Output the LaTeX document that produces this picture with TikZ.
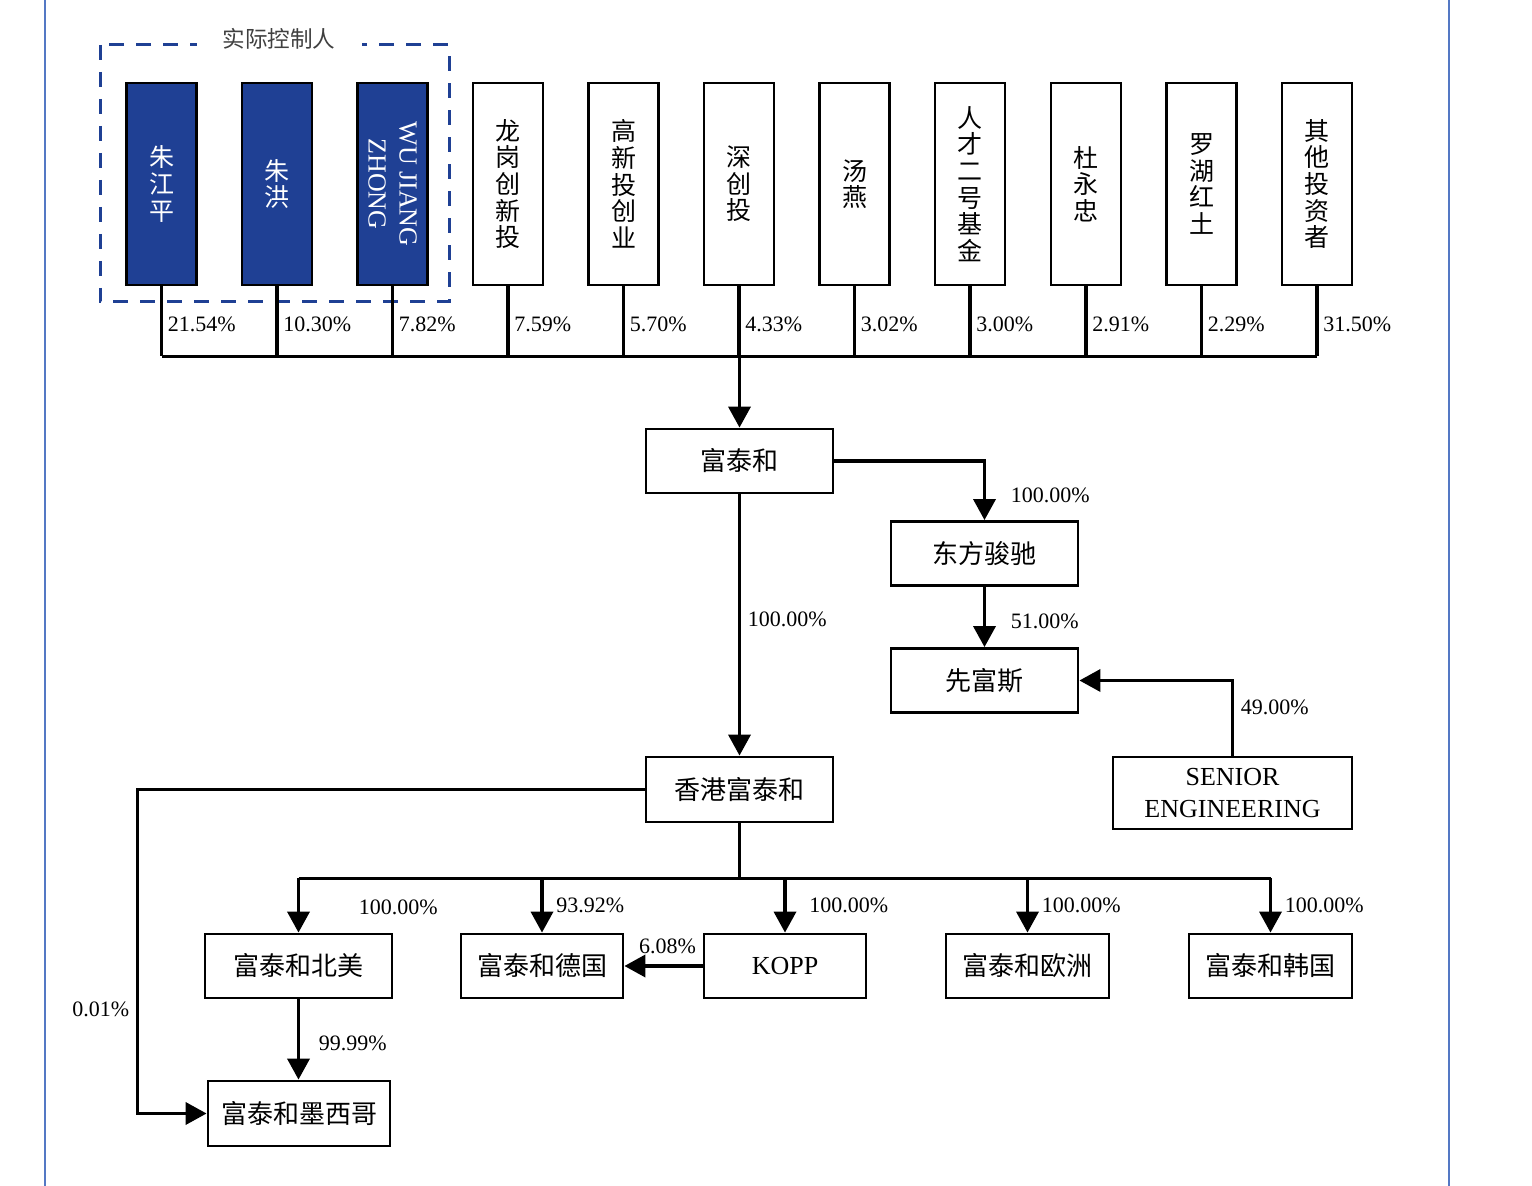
\documentclass[tikz,border=0pt]{standalone}
\usepackage{fontspec}
\setmainfont{Liberation Serif}
\newfontfamily\cjk{Noto Sans CJK SC}
\usetikzlibrary{arrows.meta,positioning}
\definecolor{ctrlblue}{RGB}{31,64,148}
\definecolor{edgeblue}{RGB}{84,120,196}
\tikzset{
  holder/.style={draw, line width=1.4pt, minimum width=35pt, minimum height=101pt,
    inner sep=0pt, align=center, font=\cjk\fontsize{12.5}{13.3}\selectfont},
  ctrl/.style={holder, fill=ctrlblue, text=white},
  box/.style={draw, line width=1.4pt, minimum width=93.5pt, minimum height=32pt,
    font=\cjk\fontsize{13}{15}\selectfont},
  pct/.style={font=\fontsize{11}{13}\selectfont},
  line/.style={line width=1.8pt},
  arr/.style={line width=1.8pt, -{Triangle[width=11pt,length=10.5pt]}},
}
\begin{document}
\begin{tikzpicture}[x=0.5pt, y=-0.5pt]
    \useasboundingbox (0,0) rectangle (1532,1186);
    \draw[edgeblue, line width=1pt] (45,0) -- (45,1186);
    \draw[edgeblue, line width=1pt] (1449,0) -- (1449,1186);

    % actual controllers
    \draw[ctrlblue, line width=1.5pt, dash pattern=on 7.5pt off 6pt] (100,45) rectangle (449,302);
    \node[fill=white, inner xsep=13pt, inner ysep=2pt, text=black!75,
      font=\cjk\fontsize{11.3}{13}\selectfont] (ctrltitle) at (279,39) {实际控制人};
    \node[ctrl] (s1) at (161.5,184) {朱\\江\\平};
    \node[ctrl] (s2) at (277,184) {朱\\洪};
    \node[ctrl] (s3) at (392.5,184) {};
    \node[rotate=-90, text=white, align=center,
      font=\fontsize{13}{15.5}\selectfont] (s3t) at (s3) {WU JIANG\\ZHONG};

    % other shareholders
    \foreach \t/\x [count=\i from 4] in {{龙\\岗\\创\\新\\投}/508, {高\\新\\投\\创\\业}/623.5,
        {深\\创\\投}/739, {汤\\燕}/854.5, {人\\才\\二\\号\\基\\金}/970,
        {杜\\永\\忠}/1086, {罗\\湖\\红\\土}/1201.5, {其\\他\\投\\资\\者}/1317}
      \node[holder] (s\i) at (\x,184) {\t};

    % shareholding bus
    \draw[line] (s1.south) ++(0,70) coordinate (b1) -- (s11.south |- b1);
    \foreach \p [count=\i] in {21.54,10.30,7.82,7.59,5.70,4.33,3.02,3.00,2.91,2.29,31.50}
      \draw[line] (s\i.south) -- (s\i.south |- b1) node[pos=.54, right, pct, xshift=-1pt] {\p\%};

    % group companies
    \node[box] (fth) at (739.5,461) {富泰和};
    \node[box] (dfjc) at (984.5,553.5) {东方骏驰};
    \node[box] (xfs) at (984.5,680.5) {先富斯};
    \node[box, minimum width=119.5pt, minimum height=36pt, align=center,
      font=\fontsize{13}{16}\selectfont] (senior) at (1232.5,793) {SENIOR\\ENGINEERING};
    \node[box, minimum height=32.5pt] (hk) at (739.5,789.5) {香港富泰和};

    \node[box] (na) at (298.5,966) {富泰和北美};
    \node[box, minimum width=81pt] (de) at (542,966) {富泰和德国};
    \node[box, minimum width=81pt, font=\fontsize{13}{15}\selectfont] (kopp) at (785,966) {KOPP};
    \node[box, minimum width=81.5pt] (eu) at (1027.5,966) {富泰和欧洲};
    \node[box, minimum width=81.5pt] (kr) at (1270.5,966) {富泰和韩国};
    \node[box, minimum width=91pt, minimum height=32.5pt] (mx) at (299,1113.5) {富泰和墨西哥};

    \draw[arr] (fth.north |- b1) -- (fth.north);
    \draw[arr] (fth.east) -| node[pos=.79, right, pct, xshift=9pt] {100.00\%} (dfjc.north);
    \draw[arr] (dfjc.south) -- node[right, pct, xshift=9pt, yshift=-2pt] {51.00\%} (xfs.north);
    \draw[arr] (senior.north) |- node[pos=.32, right, pct] {49.00\%} (xfs.east);
    \draw[arr] (fth.south) -- node[pos=.48, right, pct] {100.00\%} (hk.north);

    % subsidiaries of hk
    \draw[line] (hk.south) -- ++(0,55) coordinate (b2);
    \draw[line] (na.north |- b2) -- (kr.north |- b2);
    \draw[arr] (na.north |- b2) -- node[right, pct, xshift=26pt, yshift=-1pt] {100.00\%} (na.north);
    \draw[arr] (de.north |- b2) -- node[right, pct, xshift=3pt] {93.92\%} (de.north);
    \draw[arr] (kopp.north |- b2) -- node[right, pct, xshift=8pt] {100.00\%} (kopp.north);
    \draw[arr] (eu.north |- b2) -- node[right, pct, xshift=3pt] {100.00\%} (eu.north);
    \draw[arr] (kr.north |- b2) -- node[right, pct, xshift=3pt] {100.00\%} (kr.north);
    \draw[arr] (kopp.west) -- node[above, pct, xshift=2pt, yshift=2pt] {6.08\%} (de.east);
    \draw[arr] (na.south) -- node[right, pct, xshift=6pt, yshift=-2pt] {99.99\%} (na.south |- mx.north);
    \draw[arr] (hk.west) -- ++(-507,0) |- node[pos=.34, left, pct] {0.01\%} (mx.west);
\end{tikzpicture}
\end{document}
